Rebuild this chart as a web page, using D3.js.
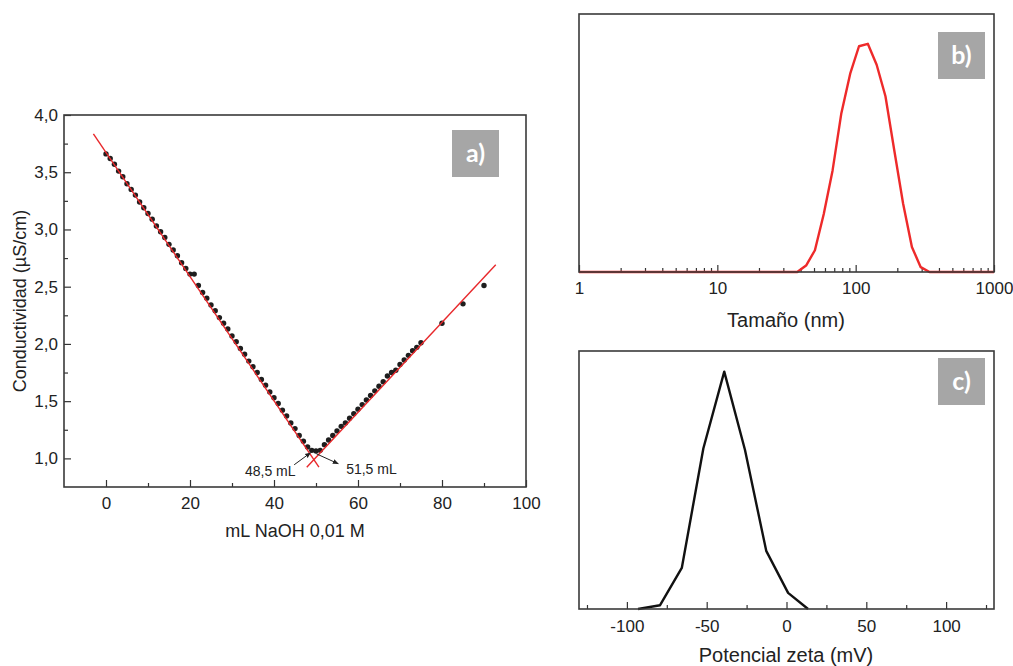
<!DOCTYPE html>
<html>
<head>
<meta charset="utf-8">
<script src="https://cdn.jsdelivr.net/npm/d3@7"></script>
<style>
  body { margin: 0; background: #fff; }
  text { font-family: "Liberation Sans", Arial, sans-serif; fill: #222; }
  .tag { font-family: Lato, "Open Sans", sans-serif; font-weight: bold; fill: #fff; }
</style>
</head>
<body>
<svg id="fig"></svg>
<script>
// ---- panel a) conductometric titration ----
var titrX = [0,1,2,3,4,5,6,7,8,9,10,11,12,13,14,15,16,17,18,19,20,21,22,23,24,25,26,27,28,29,30,
  31,32,33,34,35,36,37,38,39,40,41,42,43,44,45,46,47,48,49,50,51,
  52,53,54,55,56,57,58,59,60,61,62,63,64,65,66,67,68,69,70,71,72,73,74,75,80,85,90];
var titrY = [3.66,3.62,3.57,3.51,3.46,3.40,3.35,3.30,3.24,3.19,3.14,3.09,3.03,2.98,2.93,2.87,2.82,2.77,2.71,2.66,2.61,2.61,2.51,2.45,2.40,2.34,2.29,2.23,2.18,2.13,2.07,
  2.02,1.96,1.91,1.85,1.80,1.75,1.69,1.64,1.58,1.53,1.48,1.42,1.37,1.31,1.26,1.20,1.15,1.10,1.07,1.065,1.07,
  1.12,1.16,1.20,1.24,1.28,1.31,1.35,1.39,1.43,1.47,1.51,1.55,1.59,1.63,1.67,1.72,1.75,1.77,1.82,1.86,1.90,1.94,1.97,2.01,2.18,2.35,2.51];
var fitLeftX = [-3, 50.7], fitLeftY = [3.835, 0.924];
var fitRightX = [47.8, 92.8], fitRightY = [0.923, 2.692];
var notes = [
  {text: "48,5 mL", tx: 39.1, ty: 0.888, x1: 44.8, y1: 0.944, x2: 48.7, y2: 1.049},
  {text: "51,5 mL", tx: 63.2, ty: 0.909, x1: 50.1, y1: 1.040, x2: 55.3, y2: 0.953}
];
var aXTicks = [0, 20, 40, 60, 80, 100];
var aYTicks = [1.0, 1.5, 2.0, 2.5, 3.0, 3.5, 4.0];

// ---- panel b) size distribution ----
var sizeNm = [1, 37.8, 43.8, 50.75, 58.8, 68.1, 78.8, 91.3, 105.7, 122.4, 141.8, 164.2, 190.1, 220.2, 255.0, 295.3, 342, 1000];
var sizeInt = [0, 0, 0.4, 1.35, 3.6, 6.3, 9.85, 12.3, 14.0, 14.15, 12.85, 10.9, 7.55, 4.25, 1.55, 0.3, 0, 0];
var bXTicks = [1, 10, 100, 1000];

// ---- panel c) zeta potential ----
var zetaMv = [-93, -79.2, -65.6, -52.1, -39, -26, -12.7, 1, 13.5];
var zetaInt = [0, 1.6, 17.3, 67.6, 100, 67.0, 24.5, 6.8, 0];
var cXTicks = [-100, -50, 0, 50, 100];

var svg = d3.select("#fig").attr("width", 1013).attr("height", 666);
var comma = function(d) { return d3.format(".1f")(d).replace(".", ","); };
var plain = function(d) { return String(d); };

function box(g, x0, y0, x1, y1) {
  g.append("rect")
    .attr("x", x0).attr("y", y0)
    .attr("width", x1 - x0).attr("height", y1 - y0)
    .attr("fill", "none").attr("stroke", "#3a3a3a").attr("stroke-width", 1.6);
}
function tag(label, x0, y0) {
  svg.append("rect").attr("x", x0).attr("y", y0).attr("width", 47).attr("height", 47).attr("fill", "#a6a6a6");
  svg.append("text").attr("class", "tag").attr("x", x0 + 23.5).attr("y", y0 + 32)
    .attr("text-anchor", "middle").style("font-size", "25px").text(label);
}
function styleAxis(g, size) {
  g.select(".domain").remove();
  g.selectAll("line").attr("stroke", "#333").attr("stroke-width", 1.2);
  g.selectAll("text").style("font-size", size + "px").attr("fill", "#222");
}

// ===== a) =====
var ax = d3.scaleLinear().domain([-10, 100]).range([64, 526]);
var ay = d3.scaleLinear().domain([0.75, 4.0]).range([487, 115]);
var ga = svg.append("g");

var axb = ga.append("g").attr("transform", "translate(0,487)")
  .call(d3.axisBottom(ax).tickValues(aXTicks).tickSizeInner(-7).tickSizeOuter(0).tickPadding(10).tickFormat(plain));
styleAxis(axb, 17);
var axbm = ga.append("g").attr("transform", "translate(0,487)")
  .call(d3.axisBottom(ax).tickValues([10, 30, 50, 70, 90]).tickSize(-4).tickFormat(""));
styleAxis(axbm, 17);
var axl = ga.append("g").attr("transform", "translate(64,0)")
  .call(d3.axisLeft(ay).tickValues(aYTicks).tickSizeInner(-7).tickSizeOuter(0).tickPadding(6).tickFormat(comma));
styleAxis(axl, 17);
var axlm = ga.append("g").attr("transform", "translate(64,0)")
  .call(d3.axisLeft(ay).tickValues([1.25, 1.75, 2.25, 2.75, 3.25, 3.75]).tickSize(-4).tickFormat(""));
styleAxis(axlm, 17);

ga.selectAll("circle.pt")
  .data(titrX.map(function(d, i) { return [d, titrY[i]]; }))
  .enter().append("circle")
  .attr("class", "pt")
  .attr("cx", function(d) { return ax(d[0]); })
  .attr("cy", function(d) { return ay(d[1]); })
  .attr("r", 2.7)
  .attr("fill", "#1e1e1e");

var fitLine = d3.line().x(function(d) { return ax(d[0]); }).y(function(d) { return ay(d[1]); });
[[fitLeftX, fitLeftY], [fitRightX, fitRightY]].forEach(function(f) {
  ga.append("path")
    .datum(f[0].map(function(d, i) { return [d, f[1][i]]; }))
    .attr("d", fitLine)
    .attr("fill", "none").attr("stroke", "#e8282b").attr("stroke-width", 1.4);
});

svg.append("defs").append("marker")
  .attr("id", "arr").attr("viewBox", "0 0 10 10").attr("refX", 9).attr("refY", 5)
  .attr("markerWidth", 6).attr("markerHeight", 6).attr("orient", "auto")
  .append("path").attr("d", "M0,1 L10,5 L0,9 Z").attr("fill", "#222");

notes.forEach(function(n) {
  ga.append("line")
    .attr("x1", ax(n.x1)).attr("y1", ay(n.y1)).attr("x2", ax(n.x2)).attr("y2", ay(n.y2))
    .attr("stroke", "#222").attr("stroke-width", 1).attr("marker-end", "url(#arr)");
  ga.append("text").attr("x", ax(n.tx)).attr("y", ay(n.ty) + 5)
    .attr("text-anchor", "middle").style("font-size", "14px").text(n.text);
});

box(ga, 64, 115, 526, 487);
tag("a)", 452, 130);

ga.append("text").attr("x", 295).attr("y", 537).attr("text-anchor", "middle")
  .style("font-size", "18px").text("mL NaOH 0,01 M");
ga.append("text").attr("transform", "translate(26,301)rotate(-90)").attr("text-anchor", "middle")
  .style("font-size", "18px").text("Conductividad (µS/cm)");

// ===== b) =====
var bx = d3.scaleLog().domain([1, 1000]).range([579, 994]);
var by = d3.scaleLinear().domain([0, 16]).range([272, 14]);
var gb = svg.append("g");
var bMinor = [];
[1, 10, 100].forEach(function(p) { for (var k = 2; k <= 9; k++) bMinor.push(p * k); });

var bxa = gb.append("g").attr("transform", "translate(0,272)")
  .call(d3.axisBottom(bx).tickValues(bXTicks).tickSizeInner(-7).tickSizeOuter(0).tickPadding(10).tickFormat(plain));
styleAxis(bxa, 17);
var bxm = gb.append("g").attr("transform", "translate(0,272)")
  .call(d3.axisBottom(bx).tickValues(bMinor).tickSize(-4).tickFormat(""));
styleAxis(bxm, 17);

gb.append("path")
  .datum(sizeNm.map(function(d, i) { return [d, sizeInt[i]]; }))
  .attr("d", d3.line().x(function(d) { return bx(d[0]); }).y(function(d) { return by(d[1]); }))
  .attr("fill", "none").attr("stroke", "#ee2a2a").attr("stroke-width", 2.4).attr("stroke-linejoin", "round");

box(gb, 579, 14, 994, 272);
tag("b)", 938, 32);
gb.append("text").attr("x", 786).attr("y", 327).attr("text-anchor", "middle")
  .style("font-size", "20px").text("Tamaño (nm)");

// ===== c) =====
var cx = d3.scaleLinear().domain([-130, 130]).range([579, 994]);
var cy = d3.scaleLinear().domain([0, 108.7]).range([609, 351]);
var gc = svg.append("g");

var cxa = gc.append("g").attr("transform", "translate(0,609)")
  .call(d3.axisBottom(cx).tickValues(cXTicks).tickSizeInner(-7).tickSizeOuter(0).tickPadding(11).tickFormat(plain));
styleAxis(cxa, 17);
var cxm = gc.append("g").attr("transform", "translate(0,609)")
  .call(d3.axisBottom(cx).tickValues([-125, -75, -25, 25, 75, 125]).tickSize(-4).tickFormat(""));
styleAxis(cxm, 17);

gc.append("path")
  .datum(zetaMv.map(function(d, i) { return [d, zetaInt[i]]; }))
  .attr("d", d3.line().x(function(d) { return cx(d[0]); }).y(function(d) { return cy(d[1]); }))
  .attr("fill", "none").attr("stroke", "#111").attr("stroke-width", 2.4).attr("stroke-linejoin", "round");

box(gc, 579, 351, 994, 609);
tag("c)", 938, 358);
gc.append("text").attr("x", 786).attr("y", 662).attr("text-anchor", "middle")
  .style("font-size", "20px").text("Potencial zeta (mV)");
</script>
</body>
</html>
